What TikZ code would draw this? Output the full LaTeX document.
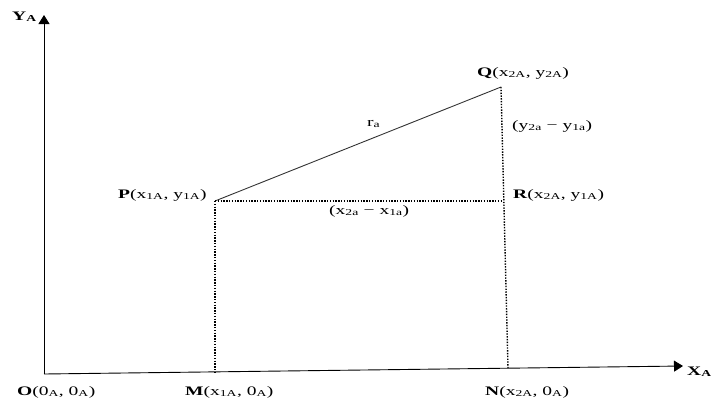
\documentclass[tikz,border=0pt]{standalone}
\usepackage{fontspec}
\setmainfont{Liberation Serif}[FakeStretch=1.5]
\usetikzlibrary{arrows.meta}

\begin{document}
\begin{tikzpicture}[x=1pt, y=-1pt,
  axis/.style={-{Triangle[length=9pt, width=11pt]}, line width=0.9pt},
  proj/.style={dash pattern=on 1.4pt off 1.4pt, line width=1.4pt},
  side/.style={line width=0.9pt, black!80},
  lab/.style={font=\fontsize{13}{15}\selectfont, inner sep=0pt, anchor=base west}
]
\useasboundingbox (0,0) rectangle (711,399);
\coordinate (O) at (44,374);
\coordinate (yend) at (44,15);
\coordinate (xend) at (683,366);
\coordinate (P) at (215,201);
\coordinate (Q) at (501,87);
\coordinate (R) at (503,201);
\coordinate (M) at (215,372);
\coordinate (N) at (508,368);

\draw[axis] (O) -- (yend);
\draw[axis] (O) -- (xend);
\draw[side] (P) -- (Q);
\draw[proj] (P) -- (R);
\draw[proj] (P) -- (M);
\draw[proj] (Q) -- (N);

\node[lab] (ylab) at (12,20) {\textbf{Y\textsubscript{A}}};
\node[lab] (xlab) at (687,375) {\textbf{X\textsubscript{A}}};
\node[lab] (qlab) at (477,76) {\textbf{Q}(x\textsubscript{2A}, y\textsubscript{2A})};
\node[lab] (dylab) at (512,129) {(y\textsubscript{2a} − y\textsubscript{1a})};
\node[lab] (ralab) at (367,126) {r\textsubscript{a}};
\node[lab] (plab) at (118,198) {\textbf{P}(x\textsubscript{1A}, y\textsubscript{1A})};
\node[lab] (rlab) at (513,198) {\textbf{R}(x\textsubscript{2A}, y\textsubscript{1A})};
\node[lab] (dxlab) at (329,214) {(x\textsubscript{2a} − x\textsubscript{1a})};
\node[lab] (olab) at (17,395) {\textbf{O}(0\textsubscript{A}, 0\textsubscript{A})};
\node[lab] (mlab) at (185,395) {\textbf{M}(x\textsubscript{1A}, 0\textsubscript{A})};
\node[lab] (nlab) at (485,395) {\textbf{N}(x\textsubscript{2A}, 0\textsubscript{A})};
\end{tikzpicture}
\end{document}
